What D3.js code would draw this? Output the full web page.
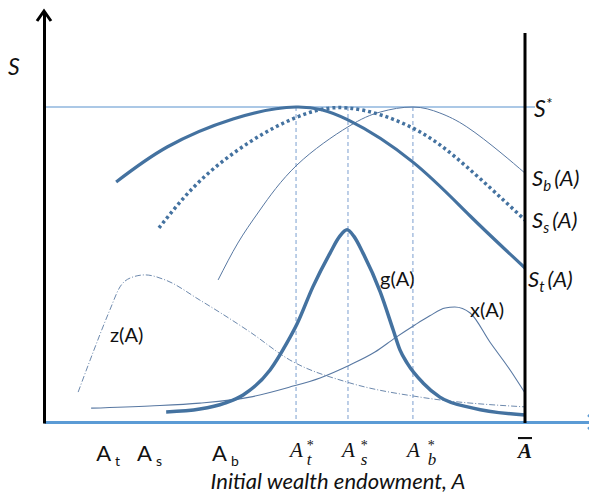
<!DOCTYPE html>
<html>
<head>
<meta charset="utf-8">
<script src="https://d3js.org/d3.v7.min.js"></script>
<style>
  body { margin: 0; background: #fff; }
  svg { display: block; }
  .lbl { font-family: Lato, "Open Sans", sans-serif; fill: #111; }
  .ser { font-family: "Liberation Serif", "DejaVu Serif", serif; fill: #111; }
</style>
</head>
<body>
<div id="chart"></div>
<script>
// wealth A on x (0..Abar=100), S on y (S* = 100)
var S_star = 100;
var A_bar = 100;

// curves: [A, S]
var St = [[15.0,76.2],[25.6,87.3],[39.3,96.2],[52.4,100],[63.2,95.9],[76.7,82.5],[88.6,65.4],[100,48.9]];
var Ss = [[23.9,61.6],[32.4,76.5],[42.8,88.9],[52.6,96.8],[63.2,99.7],[76.7,93.3],[87.9,81.0],[100,64.1]];
var Sb = [[36.2,45.1],[40.3,56.8],[44.9,67.3],[52.6,81.6],[63.2,93.7],[69.9,98.4],[76.7,100],
          [82.3,98.1],[87.9,93.7],[94.8,85.7],[100,79.0]];
var gA = [[25.4,3.2],[32.4,4.1],[37.6,6.0],[41.4,8.6],[47.0,16.5],[50.5,25.1],[52.6,31.1],
          [55.9,42.9],[59.5,53.7],[61.5,59.0],[63.0,61.0],[64.4,59.0],[66.3,53.7],[69.9,41.3],
          [72.6,29.2],[74.0,22.9],[75.5,18.7],[78.8,12.4],[82.3,7.9],[89.2,4.4],[100,2.2]];
var xA = [[9.8,4.4],[22.0,5.1],[32.4,6.0],[42.8,7.9],[51.1,11.1],[57.4,14.0],[63.6,18.1],[68.8,22.2],
          [73.0,26.7],[77.1,30.8],[80.2,33.7],[83.4,36.2],[85.4,36.5],[88.6,34.6],[92.7,25.4],
          [96.9,16.5],[100,9.2]];
var zA = [[7.1,9.5],[9.6,19.7],[13.7,35.6],[15.8,42.9],[17.9,45.7],[21.0,46.7],[25.2,45.1],
          [32.4,38.7],[42.8,28.6],[51.1,19.7],[63.6,12.4],[78.2,7.9],[100,4.8]];

// optimum wealth levels (dashed guides)
var optA = [52.4, 63.2, 76.7];
var optSub = ["t", "s", "b"];
// threshold wealth levels
var lowA = [12.3, 20.8, 36.4];
var lowSub = ["t", "s", "b"];

var width = 589, height = 500;
var blueDark = "#4472a0", blueThin = "#5878a2", blueLight = "#8fb6de", blueAxis = "#5b9bd5";

var x = d3.scaleLinear().domain([0, 100]).range([44, 525]);
var y = d3.scaleLinear().domain([0, 100]).range([422, 107]);

var svg = d3.select("#chart").append("svg")
  .attr("width", width).attr("height", height);

// smooth spline for the S curves, shape-keeping one for the densities
var smooth = d3.line()
  .x(function (d) { return x(d[0]); })
  .y(function (d) { return y(d[1]); })
  .curve(d3.curveNatural);
var line = d3.line()
  .x(function (d) { return x(d[0]); })
  .y(function (d) { return y(d[1]); })
  .curve(d3.curveMonotoneX);

// S* level
svg.append("line")
  .attr("x1", x(0)).attr("x2", x(A_bar) + 10)
  .attr("y1", y(S_star)).attr("y2", y(S_star))
  .attr("stroke", blueLight).attr("stroke-width", 1.5);

// dashed guides at the optima
svg.selectAll(".guide").data(optA).enter().append("line")
  .attr("class", "guide")
  .attr("x1", function (d) { return x(d); }).attr("x2", function (d) { return x(d); })
  .attr("y1", y(S_star)).attr("y2", y(0))
  .attr("stroke", "#7b9fcf").attr("stroke-width", 1).attr("stroke-dasharray", "4,3");

// curves
svg.append("path").datum(zA).attr("d", line).attr("fill", "none")
  .attr("stroke", "#6d89ad").attr("stroke-width", 1).attr("stroke-dasharray", "6,2,1,2");
svg.append("path").datum(xA).attr("d", line).attr("fill", "none")
  .attr("stroke", blueThin).attr("stroke-width", 1.1);
svg.append("path").datum(Sb).attr("d", smooth).attr("fill", "none")
  .attr("stroke", blueThin).attr("stroke-width", 1);
svg.append("path").datum(Ss).attr("d", smooth).attr("fill", "none")
  .attr("stroke", blueDark).attr("stroke-width", 3.5).attr("stroke-dasharray", "3,3");
svg.append("path").datum(St).attr("d", smooth).attr("fill", "none")
  .attr("stroke", blueDark).attr("stroke-width", 3.2);
svg.append("path").datum(gA).attr("d", line).attr("fill", "none")
  .attr("stroke", blueDark).attr("stroke-width", 3.5);

// x axis: blue line running to the page edge
var xAxisScale = x.copy().domain([0, x.invert(width)]).range([x(0), width]);
var xAxis = d3.axisBottom(xAxisScale).tickValues([]).tickSizeOuter(0);
var gx = svg.append("g").attr("transform", "translate(0," + y(0) + ")").call(xAxis);
gx.select(".domain").attr("stroke", blueAxis).attr("stroke-width", 3);
svg.append("path")
  .attr("d", "M" + (width - 1) + "," + (y(0) - 7) + "L" + (width + 7) + "," + y(0) + "L" + (width - 1) + "," + (y(0) + 7))
  .attr("fill", "none").attr("stroke", blueAxis).attr("stroke-width", 2.5);

// y axis with arrow
var yAxisScale = y.copy().domain([0, y.invert(12)]).range([y(0) + 1, 12]);
var gy = svg.append("g").attr("transform", "translate(" + x(0) + ",0)")
  .call(d3.axisLeft(yAxisScale).tickValues([]).tickSizeOuter(0));
gy.select(".domain").attr("stroke", "#000").attr("stroke-width", 3);
svg.append("path")
  .attr("d", "M" + (x(0) - 7) + ",21L" + x(0) + ",11L" + (x(0) + 7) + ",21")
  .attr("fill", "none").attr("stroke", "#000").attr("stroke-width", 3);

// upper bound of wealth
svg.append("line")
  .attr("x1", x(A_bar)).attr("x2", x(A_bar))
  .attr("y1", 33).attr("y2", y(0) + 1)
  .attr("stroke", "#000").attr("stroke-width", 3);

// tick labels: A_t, A_s, A_b
lowA.forEach(function (a, i) {
  var t = svg.append("text").attr("class", "lbl").attr("x", x(a) - 7).attr("y", 461)
    .style("font-size", "22px");
  t.append("tspan").text("A");
  t.append("tspan").attr("dx", 4).attr("dy", 5).style("font-size", "14px").text(lowSub[i]);
});

// tick labels: A*_t, A*_s, A*_b
optA.forEach(function (a, i) {
  var t = svg.append("text").attr("class", "ser").attr("x", x(a) - 6).attr("y", 457)
    .style("font-size", "21px").style("font-style", "italic");
  t.append("tspan").text("A");
  t.append("tspan").attr("dx", 4 + i * 2).attr("dy", -7).style("font-size", "14px")
    .style("font-style", "normal").text("*");
  t.append("tspan").attr("dx", -7).attr("dy", 15).style("font-size", "17px").text(optSub[i]);
});

// A bar
svg.append("text").attr("class", "ser").attr("x", x(A_bar)).attr("y", 458)
  .attr("text-anchor", "middle")
  .style("font-size", "21px").style("font-style", "italic").style("font-weight", "bold")
  .style("text-decoration", "overline").text("A");

// axis titles
svg.append("text").attr("class", "lbl").attr("x", 338).attr("y", 489)
  .attr("text-anchor", "middle").style("font-size", "22px").style("font-style", "italic")
  .text("Initial wealth endowment, A");
svg.append("text").attr("class", "lbl").attr("x", 8).attr("y", 75)
  .style("font-size", "23px").style("font-style", "italic").text("S");

// curve labels on the right
function subLabel(px, py, sub) {
  var t = svg.append("text").attr("class", "lbl").attr("x", px).attr("y", py)
    .style("font-size", "22px").style("font-style", "italic");
  t.append("tspan").text("S");
  t.append("tspan").attr("dy", 5).style("font-size", "15px").text(sub);
  t.append("tspan").attr("dy", -5).attr("dx", 3).text("(A)");
}
var sStarT = svg.append("text").attr("class", "lbl").attr("x", 534).attr("y", 117)
  .style("font-size", "23px").style("font-style", "italic");
sStarT.append("tspan").text("S");
sStarT.append("tspan").attr("dy", -8).style("font-size", "16px").text("*");
subLabel(532, 186, "b");
subLabel(532, 228, "s");
subLabel(528, 287, "t");

svg.append("text").attr("class", "lbl").attr("x", 380).attr("y", 286)
  .style("font-size", "20px").text("g(A)");
svg.append("text").attr("class", "lbl").attr("x", 470).attr("y", 317)
  .style("font-size", "20px").text("x(A)");
svg.append("text").attr("class", "lbl").attr("x", 110).attr("y", 342)
  .style("font-size", "20px").text("z(A)");
</script>
</body>
</html>
